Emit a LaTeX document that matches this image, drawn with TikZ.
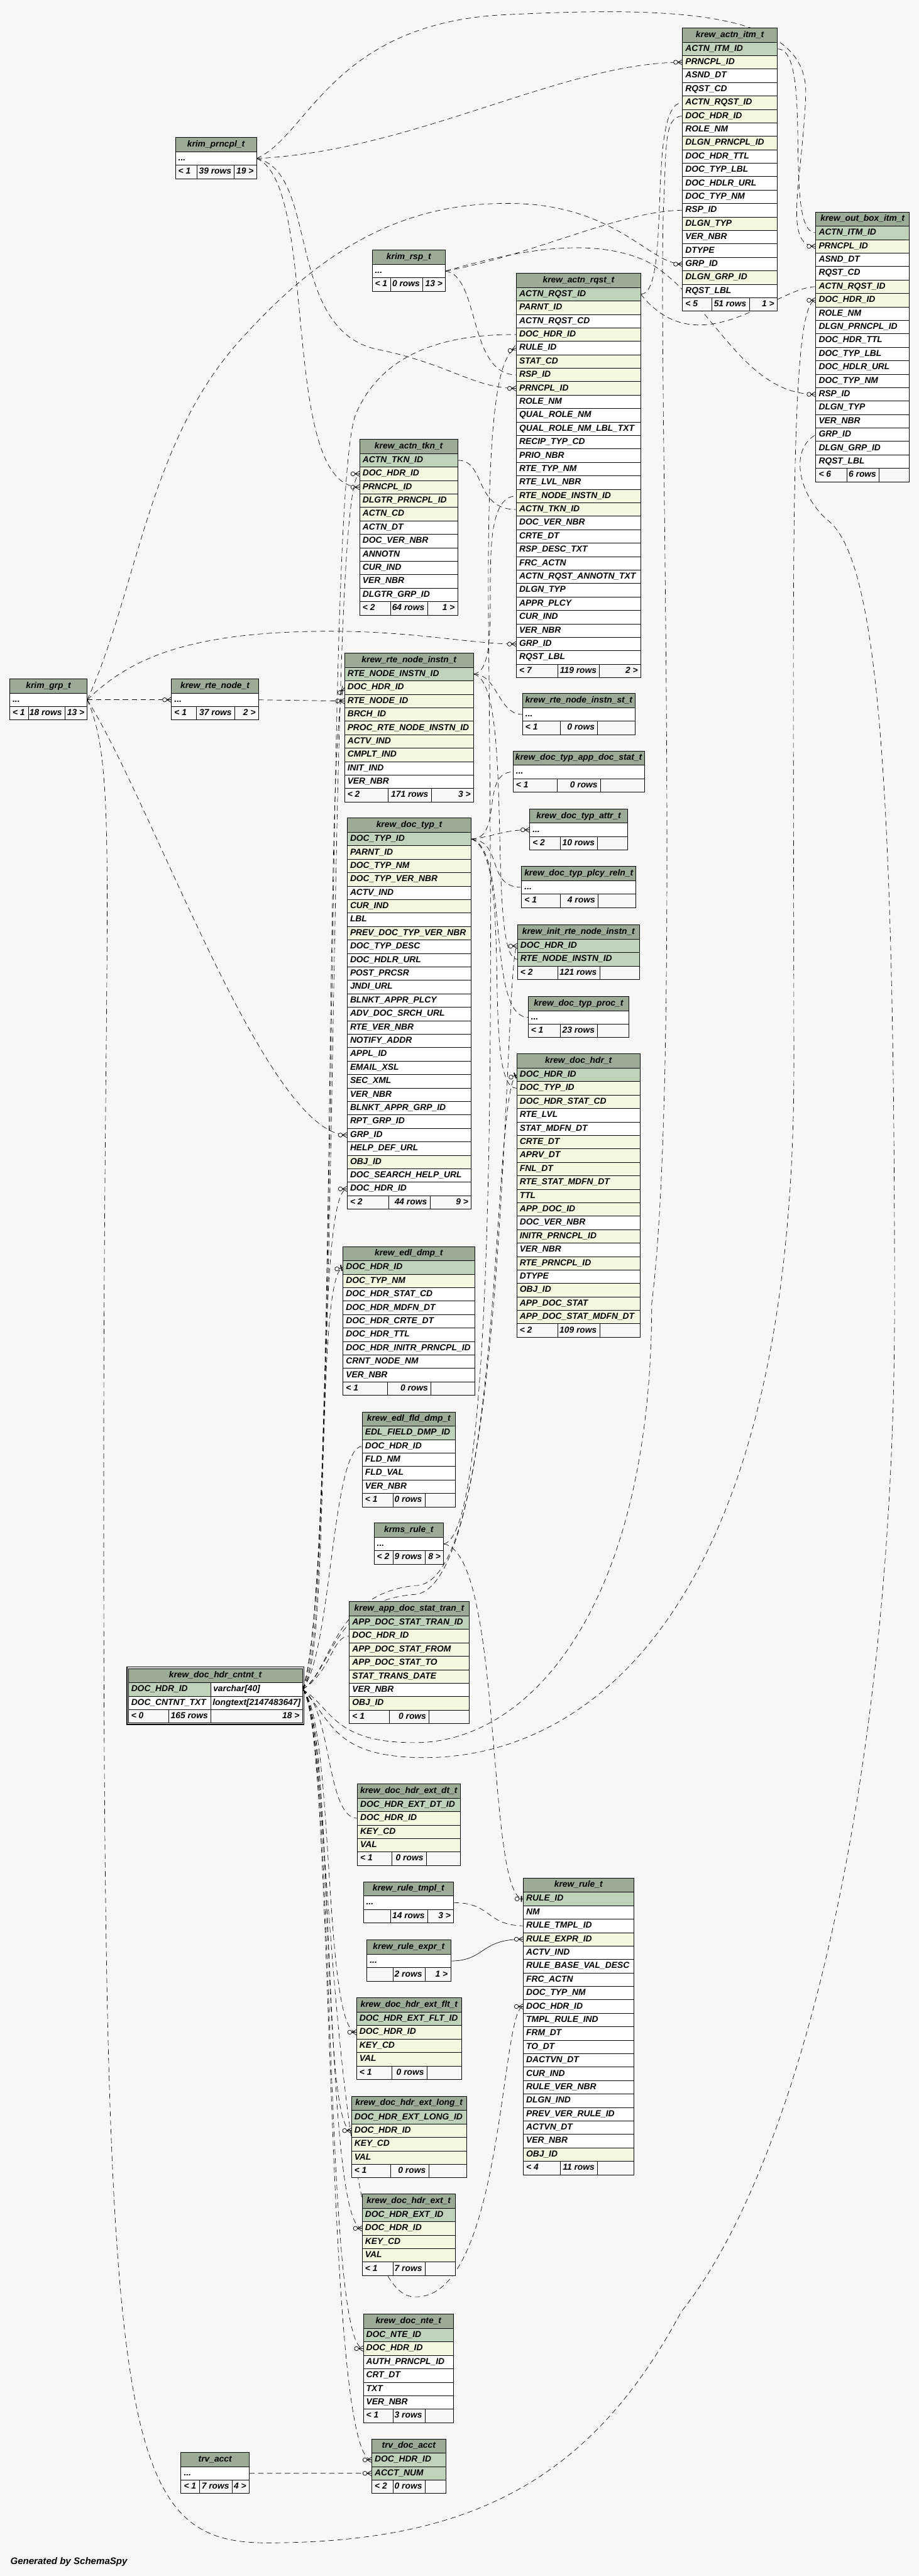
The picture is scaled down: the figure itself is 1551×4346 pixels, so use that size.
\documentclass[tikz,border=0pt]{standalone}
\usepackage{fontspec}
\setmainfont{Liberation Sans}
\usetikzlibrary{positioning,fit,backgrounds,decorations.markings}
\definecolor{bg}{HTML}{F7F7F7}
\definecolor{headc}{HTML}{9BAB96}
\definecolor{pkc}{HTML}{BFD3BB}
\definecolor{fkc}{HTML}{F4F7E0}
\newcommand{\tblfont}{\fontsize{14.67}{17}\selectfont\bfseries\itshape}
\newcommand{\dotrow}{...}
\tikzset{
  cell/.style={draw=black, line width=0.8pt, outer sep=0pt, inner sep=0pt,
               minimum height=22.7pt, text height=10.6pt, text depth=3.2pt,
               font=\tblfont},
  head/.style={cell, fill=headc, minimum height=24pt},
  foot/.style={cell, fill=bg},
  rel/.style={draw=black, line width=0.7pt, dash pattern=on 9pt off 6pt},
  relsolid/.style={draw=black, line width=0.7pt},
  many/.style={postaction={decorate, decoration={markings, mark=at position 1 with {
      \draw[solid, line width=0.8pt] (-8pt,0pt) -- (0pt,4.5pt)
           (-8pt,0pt) -- (0pt,0pt) (-8pt,0pt) -- (0pt,-4.5pt);
      \draw[solid, line width=0.8pt, fill=bg] (-11.5pt,0pt) circle (3.5pt);}}}},
  one/.style={postaction={decorate, decoration={markings, mark=at position 1 with {
      \draw[solid, line width=0.8pt] (-7pt,0pt) -- (0pt,0pt);
      \draw[solid, line width=2pt] (-3pt,-5pt) -- (-3pt,5pt);
      \draw[solid, line width=0.8pt, fill=bg] (-10.5pt,0pt) circle (3.5pt);}}}},
}
% table: name, top-left corner, width, title, rows as colour/label
\newcommand{\tbl}[5]{%
  \node[head, minimum width=#3pt, anchor=north west] (#1-0) at #2 {\hbox to #3pt{\hfil #4\hfil}};
  \foreach \clr/\lbl [count=\i] in {#5} {
    \pgfmathtruncatemacro{\prv}{\i-1}
    \node[cell, fill=\clr, minimum width=#3pt, below=0pt of #1-\prv] (#1-\i)
      {\hbox to #3pt{\hspace{5pt}\lbl\hfil}};
    \xdef\lastrow{#1-\i}
  }
}
% footer: name, three cell widths, three texts
\newcommand{\tfoot}[7]{%
  \node[foot, minimum width=#2pt, anchor=north west] (#1-fa) at (\lastrow.south west) {\hbox to #2pt{\hspace{5pt}#5\hfil}};
  \node[foot, minimum width=#3pt, anchor=north west] (#1-fb) at (#1-fa.north east) {\hbox to #3pt{\hfil #6\hspace{5pt}}};
  \node[foot, minimum width=#4pt, anchor=north west] (#1-fc) at (#1-fb.north east) {\hbox to #4pt{\hfil #7\hspace{5pt}}};
}

\begin{document}
\begin{tikzpicture}[x=1pt, y=-1pt]
\useasboundingbox (0,0) rectangle (1551,4346);

% ---- PARENTS ----
\tbl{prncpl}{(296,232)}{137}{krim\_prncpl\_t}{white/\dotrow}
\tfoot{prncpl}{36.3}{63.3}{37.4}{< 1}{39 rows}{19 >}
\tbl{rsp}{(628,422)}{124}{krim\_rsp\_t}{white/\dotrow}
\tfoot{rsp}{31.7}{53.9}{38.4}{< 1}{0 rows}{13 >}
\tbl{grp}{(16.3,1145.3)}{131}{krim\_grp\_t}{white/\dotrow}
\tfoot{grp}{31.4}{61.8}{37.8}{< 1}{18 rows}{13 >}
\tbl{rtenode}{(289.4,1145.3)}{147}{krew\_rte\_node\_t}{white/\dotrow}
\tfoot{rtenode}{42.3}{64.5}{40.2}{< 1}{37 rows}{2 >}

% ---- ACTION ITEMS ----
\tbl{aitm}{(1152,47)}{160}{krew\_actn\_itm\_t}{pkc/ACTN\_ITM\_ID, fkc/PRNCPL\_ID,
  white/ASND\_DT, white/RQST\_CD, fkc/ACTN\_RQST\_ID, fkc/DOC\_HDR\_ID, white/ROLE\_NM,
  fkc/DLGN\_PRNCPL\_ID, white/DOC\_HDR\_TTL, white/DOC\_TYP\_LBL, white/DOC\_HDLR\_URL,
  white/DOC\_TYP\_NM, white/RSP\_ID, fkc/DLGN\_TYP, white/VER\_NBR, white/DTYPE,
  white/GRP\_ID, fkc/DLGN\_GRP\_ID, white/RQST\_LBL}
\tfoot{aitm}{49.7}{63}{47.3}{< 5}{51 rows}{1 >}
\tbl{out}{(1377,357.5)}{158}{krew\_out\_box\_itm\_t}{pkc/ACTN\_ITM\_ID, fkc/PRNCPL\_ID,
  white/ASND\_DT, white/RQST\_CD, fkc/ACTN\_RQST\_ID, fkc/DOC\_HDR\_ID, white/ROLE\_NM,
  white/DLGN\_PRNCPL\_ID, white/DOC\_HDR\_TTL, white/DOC\_TYP\_LBL, white/DOC\_HDLR\_URL,
  white/DOC\_TYP\_NM, white/RSP\_ID, white/DLGN\_TYP, white/VER\_NBR, white/GRP\_ID,
  white/DLGN\_GRP\_ID, white/RQST\_LBL}
\tfoot{out}{52.3}{54.7}{51}{< 6}{6 rows}{}
\tbl{rqst}{(871.6,461)}{210}{krew\_actn\_rqst\_t}{pkc/ACTN\_RQST\_ID, fkc/PARNT\_ID,
  white/ACTN\_RQST\_CD, fkc/DOC\_HDR\_ID, white/RULE\_ID, fkc/STAT\_CD, fkc/RSP\_ID,
  fkc/PRNCPL\_ID, white/ROLE\_NM, white/QUAL\_ROLE\_NM, white/QUAL\_ROLE\_NM\_LBL\_TXT,
  white/RECIP\_TYP\_CD, white/PRIO\_NBR, white/RTE\_TYP\_NM, white/RTE\_LVL\_NBR,
  fkc/RTE\_NODE\_INSTN\_ID, fkc/ACTN\_TKN\_ID, white/DOC\_VER\_NBR, white/CRTE\_DT,
  white/RSP\_DESC\_TXT, white/FRC\_ACTN, white/ACTN\_RQST\_ANNOTN\_TXT, white/DLGN\_TYP,
  white/APPR\_PLCY, white/CUR\_IND, white/VER\_NBR, white/GRP\_ID, white/RQST\_LBL}
\tfoot{rqst}{69.9}{70.5}{69.6}{< 7}{119 rows}{2 >}
\tbl{tkn}{(607.2,741.2)}{165.3}{krew\_actn\_tkn\_t}{pkc/ACTN\_TKN\_ID, fkc/DOC\_HDR\_ID,
  fkc/PRNCPL\_ID, fkc/DLGTR\_PRNCPL\_ID, fkc/ACTN\_CD, white/ACTN\_DT, white/DOC\_VER\_NBR,
  white/ANNOTN, white/CUR\_IND, white/VER\_NBR, white/DLGTR\_GRP\_ID}
\tfoot{tkn}{52}{62.3}{51}{< 2}{64 rows}{1 >}

% ---- ROUTE NODES ----
\tbl{rni}{(581.5,1102)}{218}{krew\_rte\_node\_instn\_t}{pkc/RTE\_NODE\_INSTN\_ID,
  fkc/DOC\_HDR\_ID, fkc/RTE\_NODE\_ID, fkc/BRCH\_ID, fkc/PROC\_RTE\_NODE\_INSTN\_ID,
  fkc/ACTV\_IND, fkc/CMPLT\_IND, white/INIT\_IND, white/VER\_NBR}
\tfoot{rni}{73.2}{73.2}{71.6}{< 2}{171 rows}{3 >}
\tbl{rnist}{(882,1170)}{190}{krew\_rte\_node\_instn\_st\_t}{white/\dotrow}
\tfoot{rnist}{63.3}{63.5}{63.2}{< 1}{0 rows}{}
\tbl{dtads}{(866,1267)}{221.5}{krew\_doc\_typ\_app\_doc\_stat\_t}{white/\dotrow}
\tfoot{dtads}{74.4}{73.3}{73.8}{< 1}{0 rows}{}
\tbl{attr}{(894,1364.7)}{165.6}{krew\_doc\_typ\_attr\_t}{white/\dotrow}
\tfoot{attr}{51.3}{63.5}{50.8}{< 2}{10 rows}{}
\tbl{plcy}{(880.4,1461.7)}{193}{krew\_doc\_typ\_plcy\_reln\_t}{white/\dotrow}
\tfoot{plcy}{64.9}{64.2}{63.9}{< 1}{4 rows}{}
\tbl{init}{(873.4,1560.5)}{206.2}{krew\_init\_rte\_node\_instn\_t}{pkc/DOC\_HDR\_ID,
  pkc/RTE\_NODE\_INSTN\_ID}
\tfoot{init}{68}{70.9}{67.3}{< 2}{121 rows}{}
\tbl{proc}{(891.3,1681)}{170.5}{krew\_doc\_typ\_proc\_t}{white/\dotrow}
\tfoot{proc}{54}{63.5}{53}{< 1}{23 rows}{}

% ---- DOCUMENTS ----
\tbl{doctyp}{(586,1380.2)}{209.5}{krew\_doc\_typ\_t}{pkc/DOC\_TYP\_ID, fkc/PARNT\_ID,
  fkc/DOC\_TYP\_NM, fkc/DOC\_TYP\_VER\_NBR, white/ACTV\_IND, fkc/CUR\_IND, white/LBL,
  fkc/PREV\_DOC\_TYP\_VER\_NBR, white/DOC\_TYP\_DESC, white/DOC\_HDLR\_URL,
  white/POST\_PRCSR, white/JNDI\_URL, white/BLNKT\_APPR\_PLCY, white/ADV\_DOC\_SRCH\_URL,
  white/RTE\_VER\_NBR, white/NOTIFY\_ADDR, white/APPL\_ID, white/EMAIL\_XSL,
  white/SEC\_XML, white/VER\_NBR, white/BLNKT\_APPR\_GRP\_ID, white/RPT\_GRP\_ID,
  white/GRP\_ID, white/HELP\_DEF\_URL, fkc/OBJ\_ID, white/DOC\_SEARCH\_HELP\_URL,
  white/DOC\_HDR\_ID}
\tfoot{doctyp}{69.8}{69.9}{69.8}{< 2}{44 rows}{9 >}
\tbl{dochdr}{(872.3,1778)}{208.2}{krew\_doc\_hdr\_t}{pkc/DOC\_HDR\_ID, fkc/DOC\_TYP\_ID,
  fkc/DOC\_HDR\_STAT\_CD, white/RTE\_LVL, white/STAT\_MDFN\_DT, fkc/CRTE\_DT, fkc/APRV\_DT,
  fkc/FNL\_DT, fkc/RTE\_STAT\_MDFN\_DT, fkc/TTL, fkc/APP\_DOC\_ID, white/DOC\_VER\_NBR,
  fkc/INITR\_PRNCPL\_ID, white/VER\_NBR, fkc/RTE\_PRNCPL\_ID, white/DTYPE, fkc/OBJ\_ID,
  fkc/APP\_DOC\_STAT, fkc/APP\_DOC\_STAT\_MDFN\_DT}
\tfoot{dochdr}{69}{71}{68.2}{< 2}{109 rows}{}
\tbl{edl}{(579,2103)}{222}{krew\_edl\_dmp\_t}{pkc/DOC\_HDR\_ID, fkc/DOC\_TYP\_NM,
  white/DOC\_HDR\_STAT\_CD, white/DOC\_HDR\_MDFN\_DT, white/DOC\_HDR\_CRTE\_DT,
  white/DOC\_HDR\_TTL, white/DOC\_HDR\_INITR\_PRNCPL\_ID, white/CRNT\_NODE\_NM,
  white/VER\_NBR}
\tfoot{edl}{74.5}{73.9}{73.6}{< 1}{0 rows}{}
\tbl{fld}{(611.4,2382)}{157.3}{krew\_edl\_fld\_dmp\_t}{pkc/EDL\_FIELD\_DMP\_ID,
  white/DOC\_HDR\_ID, white/FLD\_NM, white/FLD\_VAL, white/VER\_NBR}
\tfoot{fld}{52.1}{53.9}{51.3}{< 1}{0 rows}{}
\tbl{krms}{(631.3,2569.4)}{117.5}{krms\_rule\_t}{white/\dotrow}
\tfoot{krms}{31.8}{54.3}{31.4}{< 2}{9 rows}{8 >}
\tbl{adst}{(589.6,2702.2)}{202.1}{krew\_app\_doc\_stat\_tran\_t}{pkc/APP\_DOC\_STAT\_TRAN\_ID,
  fkc/DOC\_HDR\_ID, fkc/APP\_DOC\_STAT\_FROM, fkc/APP\_DOC\_STAT\_TO,
  fkc/STAT\_TRANS\_DATE, white/VER\_NBR, fkc/OBJ\_ID}
\tfoot{adst}{67.7}{67}{67.4}{< 1}{0 rows}{}

% ---- CONTENT (focus table) ----
\node[head, minimum width=294pt, anchor=north west] (cntnt-0) at (216.5,2814.8)
  {\hbox to 294pt{\hfil krew\_doc\_hdr\_cntnt\_t\hfil}};
\node[cell, fill=pkc, minimum width=139.5pt, anchor=north west] (cntnt-1) at (cntnt-0.south west)
  {\hbox to 139.5pt{\hspace{5pt}DOC\_HDR\_ID\hfil}};
\node[cell, fill=white, minimum width=154.5pt, anchor=north west] (cntnt-1t) at (cntnt-1.north east)
  {\hbox to 154.5pt{\hspace{4pt}varchar[40]\hfil}};
\node[cell, fill=white, minimum width=139.5pt, anchor=north west] (cntnt-2) at (cntnt-1.south west)
  {\hbox to 139.5pt{\hspace{5pt}DOC\_CNTNT\_TXT\hfil}};
\node[cell, fill=white, minimum width=154.5pt, anchor=north west] (cntnt-2t) at (cntnt-2.north east)
  {\hbox to 154.5pt{\hspace{3pt}longtext[2147483647]\hfil}};
\xdef\lastrow{cntnt-2}
\tfoot{cntnt}{68.5}{71}{154.5}{< 0}{165 rows}{18 >}
\node[draw, line width=1.6pt, inner sep=2.4pt, fit=(cntnt-0)(cntnt-fc)] (cntnt) {};

% ---- EXTENSIONS ----
\tbl{extdt}{(603.2,3009.6)}{173.6}{krew\_doc\_hdr\_ext\_dt\_t}{pkc/DOC\_HDR\_EXT\_DT\_ID,
  fkc/DOC\_HDR\_ID, fkc/KEY\_CD, fkc/VAL}
\tfoot{extdt}{58.2}{58.2}{57.2}{< 1}{0 rows}{}
\tbl{rtmpl}{(613.2,3174.6)}{152.5}{krew\_rule\_tmpl\_t}{white/\dotrow}
\tfoot{rtmpl}{46.4}{62.2}{43.9}{}{14 rows}{3 >}
\tbl{rexpr}{(619.3,3273.1)}{141.4}{krew\_rule\_expr\_t}{white/\dotrow}
\tfoot{rexpr}{44.3}{53.9}{43.2}{}{2 rows}{1 >}
\tbl{extflt}{(601.8,3370.6)}{177.5}{krew\_doc\_hdr\_ext\_flt\_t}{pkc/DOC\_HDR\_EXT\_FLT\_ID,
  fkc/DOC\_HDR\_ID, fkc/KEY\_CD, fkc/VAL}
\tfoot{extflt}{59.6}{59.3}{58.6}{< 1}{0 rows}{}
\tbl{extlong}{(593.2,3536.6)}{194.3}{krew\_doc\_hdr\_ext\_long\_t}{pkc/DOC\_HDR\_EXT\_LONG\_ID,
  fkc/DOC\_HDR\_ID, fkc/KEY\_CD, fkc/VAL}
\tfoot{extlong}{66.4}{64}{63.9}{< 1}{0 rows}{}
\tbl{ext}{(611.4,3701.5)}{156.8}{krew\_doc\_hdr\_ext\_t}{pkc/DOC\_HDR\_EXT\_ID,
  fkc/DOC\_HDR\_ID, fkc/KEY\_CD, fkc/VAL}
\tfoot{ext}{51.8}{54.3}{50.7}{< 1}{7 rows}{}
\tbl{nte}{(613.2,3904.3)}{152.5}{krew\_doc\_nte\_t}{pkc/DOC\_NTE\_ID, fkc/DOC\_HDR\_ID,
  white/AUTH\_PRNCPL\_ID, white/CRT\_DT, white/TXT, white/VER\_NBR}
\tfoot{nte}{50}{54.3}{48.2}{< 1}{3 rows}{}
\tbl{trvdoc}{(627.5,4114.7)}{125}{trv\_doc\_acct}{pkc/DOC\_HDR\_ID, pkc/ACCT\_NUM}
\tfoot{trvdoc}{35.7}{54.3}{35}{< 2}{0 rows}{}
\tbl{trvacct}{(305.4,4137.3)}{115.3}{trv\_acct}{white/\dotrow}
\tfoot{trvacct}{31}{55.4}{28.9}{< 1}{7 rows}{4 >}

% ---- RULES ----
\tbl{rule}{(883.2,3168.3)}{186.4}{krew\_rule\_t}{pkc/RULE\_ID, white/NM, white/RULE\_TMPL\_ID,
  fkc/RULE\_EXPR\_ID, white/ACTV\_IND, white/RULE\_BASE\_VAL\_DESC, white/FRC\_ACTN,
  white/DOC\_TYP\_NM, white/DOC\_HDR\_ID, white/TMPL\_RULE\_IND, white/FRM\_DT, white/TO\_DT,
  white/DACTVN\_DT, white/CUR\_IND, white/RULE\_VER\_NBR, white/DLGN\_IND,
  white/PREV\_VER\_RULE\_ID, white/ACTVN\_DT, white/VER\_NBR, fkc/OBJ\_ID}
\tfoot{rule}{62.5}{62.9}{61}{< 4}{11 rows}{}

\node[anchor=west, font=\fontsize{16}{18}\selectfont\bfseries\itshape] (gen) at (14,4322)
  {Generated by SchemaSpy};

% ---- edges ----
\begin{scope}[on background layer]
\fill[bg] (0,0) rectangle (1551,4346);

% krim_prncpl_t
\draw[rel, many] (prncpl-1.east) .. controls (700,255) and (950,105) .. (aitm-2.west);
\draw[rel, many] (prncpl-1.east) .. controls (520,230) and (560,40) .. (850,25)
  .. controls (1150,10) and (1365,20) .. (1360,160) .. controls (1355,300) and (1320,416) .. (out-2.west);
\draw[rel, many] (prncpl-1.east) .. controls (540,290) and (480,560) .. (640,590)
  .. controls (760,615) and (800,655) .. (rqst-8.west);
\draw[rel, many] (prncpl-1.east) .. controls (540,310) and (470,822) .. (tkn-3.west);

% krim_rsp_t
\draw[rel, many] (rsp-1.east) .. controls (810,465) and (790,632) .. (rqst-7.west);
\draw[rel, many] (rsp-1.east) .. controls (900,430) and (1050,355) .. (aitm-13.west);
\draw[rel, many] (rsp-1.east) .. controls (880,420) and (1000,400) .. (1090,440)
  .. controls (1200,500) and (1250,666) .. (out-13.west);

% krim_grp_t
\draw[rel, many] (grp-1.east) .. controls (230,1000) and (250,750) .. (400,580)
  .. controls (550,410) and (700,330) .. (900,345) .. controls (1050,360) and (1100,446) .. (aitm-17.west);
\draw[rel, many] (grp-1.east) .. controls (200,1300) and (175,1500) .. (175,2500)
  .. controls (175,4100) and (200,4290) .. (450,4290) .. controls (800,4290) and (1000,4180) .. (1150,3900)
  .. controls (1350,3650) and (1510,3000) .. (1510,2200) .. controls (1510,1300) and (1480,950) .. (1400,880)
  .. controls (1350,840) and (1330,760) .. (out-16.west);
\draw[rel, many] (grp-1.east) .. controls (220,1110) and (320,1065) .. (560,1065)
  .. controls (700,1065) and (800,1087) .. (rqst-27.west);
\draw[rel, many] (grp-1.east) .. controls (260,1360) and (450,1915) .. (doctyp-23.west);
\draw[rel, many] (grp-1.east) -- (rtenode-1.west);

% route nodes and actions
\draw[rel, many] (rtenode-1.east) -- (rni-3.west);
\draw[rel, many] (rni-1.east) .. controls (860,1130) and (790,837) .. (rqst-16.west);
\draw[rel, many] (rni-1.east) .. controls (840,1137) and (840,1205) .. (rnist-1.west);
\draw[rel, many] (rni-1.east) .. controls (870,1150) and (820,1619) .. (init-2.west);
\draw[rel, many] (tkn-1.east) .. controls (820,776) and (800,860) .. (rqst-17.west);
\draw[rel, many] (rqst-1.east) .. controls (1135,496) and (1090,173) .. (aitm-5.west);
\draw[rel, many] (rqst-1.east) .. controls (1180,620) and (1310,484) .. (out-5.west);
\draw[rel, one] (aitm-1.east) .. controls (1375,82) and (1320,393) .. (out-1.west);

% krew_doc_typ_t
\draw[rel, many] (doctyp-1.east) .. controls (850,1415) and (810,1302) .. (dtads-1.west);
\draw[rel, many] (doctyp-1.east) .. controls (840,1410) and (850,1400) .. (attr-1.west);
\draw[rel, many] (doctyp-1.east) .. controls (850,1420) and (820,1497) .. (plcy-1.west);
\draw[rel, many] (doctyp-1.east) .. controls (860,1430) and (820,1716) .. (proc-1.west);
\draw[rel, many] (doctyp-1.east) .. controls (870,1440) and (810,1836) .. (dochdr-2.west);

% rules
\draw[rel, many] (krms-1.east) .. controls (840,2590) and (830,1600) .. (825,1100)
  .. controls (820,700) and (840,600) .. (rqst-5.west);
\draw[rel, one] (krms-1.east) .. controls (850,2620) and (820,3203) .. (rule-1.west);
\draw[rel, many] (rtmpl-1.east) .. controls (830,3210) and (820,3248) .. (rule-3.west);
\draw[relsolid, many] (rexpr-1.east) .. controls (820,3308) and (810,3271) .. (rule-4.west);
\draw[rel, many] (trvacct-1.east) -- (trvdoc-2.west);

% krew_doc_hdr_cntnt_t, upwards
\draw[rel, one] (cntnt-1t.east) .. controls (560,2800) and (530,2150) .. (edl-1.west);
\draw[rel, many] (cntnt-1t.east) .. controls (560,2790) and (560,2440) .. (fld-2.west);
\draw[rel, many] (cntnt-1t.east) .. controls (560,2820) and (560,2760) .. (adst-2.west);
\draw[rel, many] (cntnt-1t.east) .. controls (560,2780) and (530,2006) .. (doctyp-27.west);
\draw[rel, many] (cntnt-1t.east) .. controls (570,2700) and (545,1200) .. (rni-2.west);
\draw[rel, many] (cntnt-1t.east) .. controls (575,2700) and (550,800) .. (tkn-2.west);
\draw[rel, many] (cntnt-1t.east) .. controls (575,2700) and (545,850) .. (600,700)
  .. controls (650,580) and (780,564) .. (rqst-4.west);
\draw[rel, one] (cntnt-1t.east) .. controls (560,2820) and (560,2690) .. (700,2675)
  .. controls (850,2680) and (830,1830) .. (dochdr-1.west);
\draw[rel, many] (cntnt-1t.east) .. controls (560,2820) and (560,2700) .. (700,2690)
  .. controls (860,2680) and (850,1596) .. (init-1.west);
\draw[rel, many] (cntnt-1t.east) .. controls (560,2880) and (560,2940) .. (700,2940)
  .. controls (900,2940) and (1100,2700) .. (1100,2200) .. controls (1150,1800) and (1110,600) .. (1120,350)
  .. controls (1125,250) and (1120,196) .. (aitm-6.west);
\draw[rel, many] (cntnt-1t.east) .. controls (560,2900) and (560,2960) .. (700,2965)
  .. controls (1000,2975) and (1340,2700) .. (1340,1800) .. controls (1340,1000) and (1330,507) .. (out-6.west);

% krew_doc_hdr_cntnt_t, downwards
\draw[rel, many] (cntnt-1t.east) .. controls (560,2880) and (550,3067) .. (extdt-2.west);
\draw[rel, many] (cntnt-1t.east) .. controls (565,2900) and (545,3428) .. (extflt-2.west);
\draw[rel, many] (cntnt-1t.east) .. controls (565,2900) and (540,3594) .. (extlong-2.west);
\draw[rel, many] (cntnt-1t.east) .. controls (565,2900) and (545,3759) .. (ext-2.west);
\draw[rel, many] (cntnt-1t.east) .. controls (565,2900) and (545,3962) .. (nte-2.west);
\draw[rel, many] (cntnt-1t.east) .. controls (565,2900) and (545,4150) .. (trvdoc-1.west);
\draw[rel, many] (cntnt-1t.east) .. controls (560,2900) and (550,3875) .. (700,3875)
  .. controls (850,3880) and (845,3385) .. (rule-9.west);
\end{scope}

\end{tikzpicture}
\end{document}
